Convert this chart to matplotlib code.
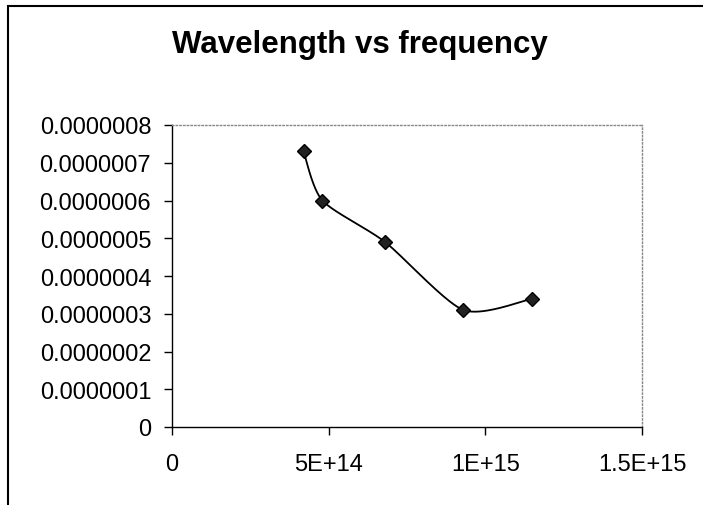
import numpy as np
import matplotlib.pyplot as plt
from matplotlib.patches import Rectangle

# Values
frequency = [4.2e14, 4.8e14, 6.8e14, 9.3e14, 1.15e15]
wavelength = [7.3e-7, 6.0e-7, 4.9e-7, 3.1e-7, 3.4e-7]
x_ticks = [0, 5e14, 1e15, 1.5e15]
x_tick_labels = ["0", "5E+14", "1E+15", "1.5E+15"]
y_ticks = [0, 1e-7, 2e-7, 3e-7, 4e-7, 5e-7, 6e-7, 7e-7, 8e-7]
y_tick_labels = ["0", "0.0000001", "0.0000002", "0.0000003", "0.0000004",
                 "0.0000005", "0.0000006", "0.0000007", "0.0000008"]
title = "Wavelength vs frequency"


def smooth_line(xs, ys, steps=40):
    # Bezier smoothing in the style of a spreadsheet "smoothed line"
    pts = np.column_stack([xs, ys]).astype(float)
    padded = np.vstack([pts[0], pts, pts[-1]])
    out = []
    for i in range(len(pts) - 1):
        p0, p1 = padded[i + 1], padded[i + 2]
        c1 = p0 + (padded[i + 2] - padded[i]) / 8
        c2 = p1 - (padded[i + 3] - padded[i + 1]) / 8
        t = np.linspace(0, 1, steps)[:, None]
        seg = ((1 - t) ** 3) * p0 + 3 * ((1 - t) ** 2) * t * c1 + 3 * (1 - t) * t ** 2 * c2 + t ** 3 * p1
        out.append(seg)
    out = np.vstack(out)
    return out[:, 0], out[:, 1]


plt.rcParams['font.family'] = ['Liberation Sans', 'DejaVu Sans']

fig = plt.figure(figsize=(7.03, 5.06), dpi=100)
ax = fig.add_axes([172 / 703, 1 - 428 / 506, 470 / 703, 302 / 506])

# outer chart border
fig.patches.append(Rectangle((8 / 703, -0.1), 1.2, 1.1 - 7 / 506, transform=fig.transFigure,
                             fill=False, edgecolor="black", linewidth=1.5))

sx, sy = smooth_line(frequency, wavelength)
ax.plot(sx, sy, color="black", linewidth=1.3)
ax.plot(frequency, wavelength, linestyle="none", marker="D", markersize=7,
        markerfacecolor="#222222", markeredgecolor="black")

ax.set_xlim(0, 1.5e15)
ax.set_ylim(0, 8e-7)
ax.set_xticks(x_ticks)
ax.set_xticklabels(x_tick_labels)
ax.set_yticks(y_ticks)
ax.set_yticklabels(y_tick_labels)
ax.tick_params(axis="both", direction="out", length=6, width=1, labelsize=17)
ax.tick_params(axis="x", pad=13)
ax.tick_params(axis="y", pad=9)

for side in ["top", "right"]:
    ax.spines[side].set_color("#888888")
    ax.spines[side].set_linestyle(":")
    ax.spines[side].set_linewidth(1)
for side in ["left", "bottom"]:
    ax.spines[side].set_color("black")
    ax.spines[side].set_linewidth(1)

fig.text(360 / 703, 1 - 45 / 506, title, ha="center", va="center",
         fontsize=22.5, fontweight="bold")

fig.savefig("out.png", dpi=100)
